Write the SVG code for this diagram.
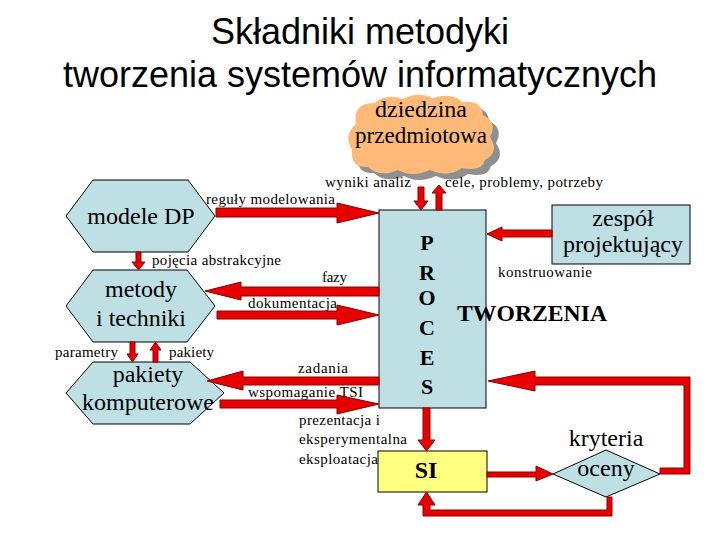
<svg xmlns="http://www.w3.org/2000/svg" width="720" height="540" viewBox="0 0 720 540">
<style>
.title{font-family:"Liberation Sans",Arial,sans-serif;font-size:36px;fill:#000;text-anchor:middle}
.node{fill:#BEDFE4;stroke:#000;stroke-width:1}
.nt{font-family:"Liberation Serif","Times New Roman","DejaVu Serif",serif;font-size:24px;fill:#000;text-anchor:middle}
.bt{font-family:"Liberation Serif","Times New Roman","DejaVu Serif",serif;font-weight:bold;fill:#000;text-anchor:middle}
.lbl{font-family:"Liberation Serif","Times New Roman","DejaVu Serif",serif;font-size:15px;fill:#000}
.arr{fill:#E80000;stroke:#8A0000;stroke-width:1;stroke-linejoin:miter}
</style>
<rect width="720" height="540" fill="#fff"/>
<g id="title">
<text class="title" x="360" y="44">Składniki metodyki</text>
<text class="title" x="360" y="87">tworzenia systemów informatycznych</text>
</g>
<g id="dziedzina">
<path transform="translate(6,6)" fill="#8F8F8F" d="M352,150 Q343,135 356,124 Q352,103 375,103 Q385,93 403,99 Q418,91 433,98 Q452,92 462,102 Q482,100 483,115 Q498,122 490,137 Q500,152 485,160 Q482,172 462,168 Q448,178 430,170 Q412,178 398,170 Q380,178 368,167 Q350,168 352,150 Z"/>
<path fill="#FFBA7A" d="M352,150 Q343,135 356,124 Q352,103 375,103 Q385,93 403,99 Q418,91 433,98 Q452,92 462,102 Q482,100 483,115 Q498,122 490,137 Q500,152 485,160 Q482,172 462,168 Q448,178 430,170 Q412,178 398,170 Q380,178 368,167 Q350,168 352,150 Z"/>
<text class="nt" x="421" y="117" font-size="23">dziedzina</text>
<text class="nt" x="421" y="143" font-size="23" textLength="132" lengthAdjust="spacingAndGlyphs">przedmiotowa</text>
</g>
<g id="modele">
<polygon class="node" points="66,216 93,180 188,180 215,216 188,252 93,252"/>
<text class="nt" x="141" y="224">modele DP</text>
</g>
<g id="metody">
<polygon class="node" points="66,306 93,270 187,270 215,306 187,342 93,342"/>
<text class="nt" x="141" y="297">metody</text>
<text class="nt" x="141" y="326">i techniki</text>
</g>
<g id="pakiety">
<polygon class="node" points="66,393 93,362 190,362 224,393 190,424 93,424"/>
<text class="nt" x="148" y="382">pakiety</text>
<text class="nt" x="148" y="410">komputerowe</text>
</g>
<g id="proces">
<rect class="node" x="379" y="210" width="107" height="198"/>
<text class="bt" x="427" y="250" font-size="22">P</text>
<text class="bt" x="427" y="280" font-size="22">R</text>
<text class="bt" x="427" y="305" font-size="22">O</text>
<text class="bt" x="427" y="335" font-size="22">C</text>
<text class="bt" x="427" y="365" font-size="22">E</text>
<text class="bt" x="427" y="394" font-size="22">S</text>
</g>
<g id="tworzenia">
<text class="bt" x="532" y="321" font-size="23" textLength="150" lengthAdjust="spacingAndGlyphs">TWORZENIA</text>
</g>
<g id="zespol">
<rect class="node" x="552" y="205" width="138" height="59"/>
<text class="nt" x="623" y="226">zespół</text>
<text class="nt" x="623" y="252">projektujący</text>
</g>
<g id="si">
<rect x="378" y="451" width="109" height="41" fill="#FFFF80" stroke="#000" stroke-width="1"/>
<text class="bt" x="426" y="478" font-size="24">SI</text>
</g>
<g id="kryteria">
<polygon class="node" points="553,474 606,450 660,474 606,497"/>
<text class="nt" x="606" y="446">kryteria</text>
<text class="nt" x="606" y="476">oceny</text>
</g>
<g id="connectors">
<polygon class="arr" points="216,208 337,208 337,203 379,213 337,223 337,217 216,217"/>
<polygon class="arr" points="379,287 241,287 241,282 205,291 241,300 241,296 379,296"/>
<polygon class="arr" points="217,311 337,311 337,305 379,315 337,325 337,319 217,319"/>
<polygon class="arr" points="379,377 243,377 243,371 207,381 243,390 243,385 379,385"/>
<polygon class="arr" points="220,400 337,400 337,395 379,404 337,414 337,408 220,408"/>
<polygon class="arr" points="136,252 141,252 141,262 145,262 138.5,270 132,262 136,262"/>
<polygon class="arr" points="130,342 135,342 135,354 138,354 132.5,362 127,354 130,354"/>
<polygon class="arr" points="153,362 158,362 158,350 161,350 155.5,342 150,350 153,350"/>
<polygon class="arr" points="418,187 424,187 424,201 428,201 421,210 414,201 418,201"/>
<polygon class="arr" points="436,210 442,210 442,193 446,193 439,185 432,193 436,193"/>
<polygon class="arr" points="552,230 502,230 502,227 487,234 502,241 502,237 552,237"/>
<polygon class="arr" points="423,408 430,408 430,440 435,440 426.5,451 418,440 423,440"/>
<polygon class="arr" points="487,472 536,472 536,466 553,474 536,481 536,477 487,477"/>
<polygon class="arr" points="660,468 684,468 684,385 535,385 535,391 488,381 535,371 535,377 690,377 690,474 660,474"/>
<polygon class="arr" points="607,497 612,497 612,516 423,516 423,505 418,505 426.5,492 435,505 430,505 430,510 607,510"/>
</g>
<g id="labels">
<text class="lbl" x="206" y="204" textLength="129" lengthAdjust="spacing">reguły modelowania</text>
<text class="lbl" x="325" y="187" textLength="86" lengthAdjust="spacing">wyniki analiz</text>
<text class="lbl" x="445" y="187" textLength="158" lengthAdjust="spacing">cele, problemy, potrzeby</text>
<text class="lbl" x="152" y="265" textLength="129" lengthAdjust="spacing">pojęcia abstrakcyjne</text>
<text class="lbl" x="322" y="282" textLength="25" lengthAdjust="spacing">fazy</text>
<text class="lbl" x="248" y="308" textLength="89" lengthAdjust="spacing">dokumentacja</text>
<text class="lbl" x="55" y="357" textLength="63" lengthAdjust="spacing">parametry</text>
<text class="lbl" x="169" y="357" textLength="45" lengthAdjust="spacing">pakiety</text>
<text class="lbl" x="298" y="373" textLength="50" lengthAdjust="spacing">zadania</text>
<text class="lbl" x="248" y="397" textLength="115" lengthAdjust="spacing">wspomaganie TSI</text>
<text class="lbl" x="299" y="425" textLength="81" lengthAdjust="spacing">prezentacja i</text>
<text class="lbl" x="299" y="444" textLength="108" lengthAdjust="spacing">eksperymentalna</text>
<text class="lbl" x="299" y="464" textLength="79" lengthAdjust="spacing">eksploatacja</text>
<text class="lbl" x="498" y="277" textLength="94" lengthAdjust="spacing">konstruowanie</text>
</g>
</svg>
